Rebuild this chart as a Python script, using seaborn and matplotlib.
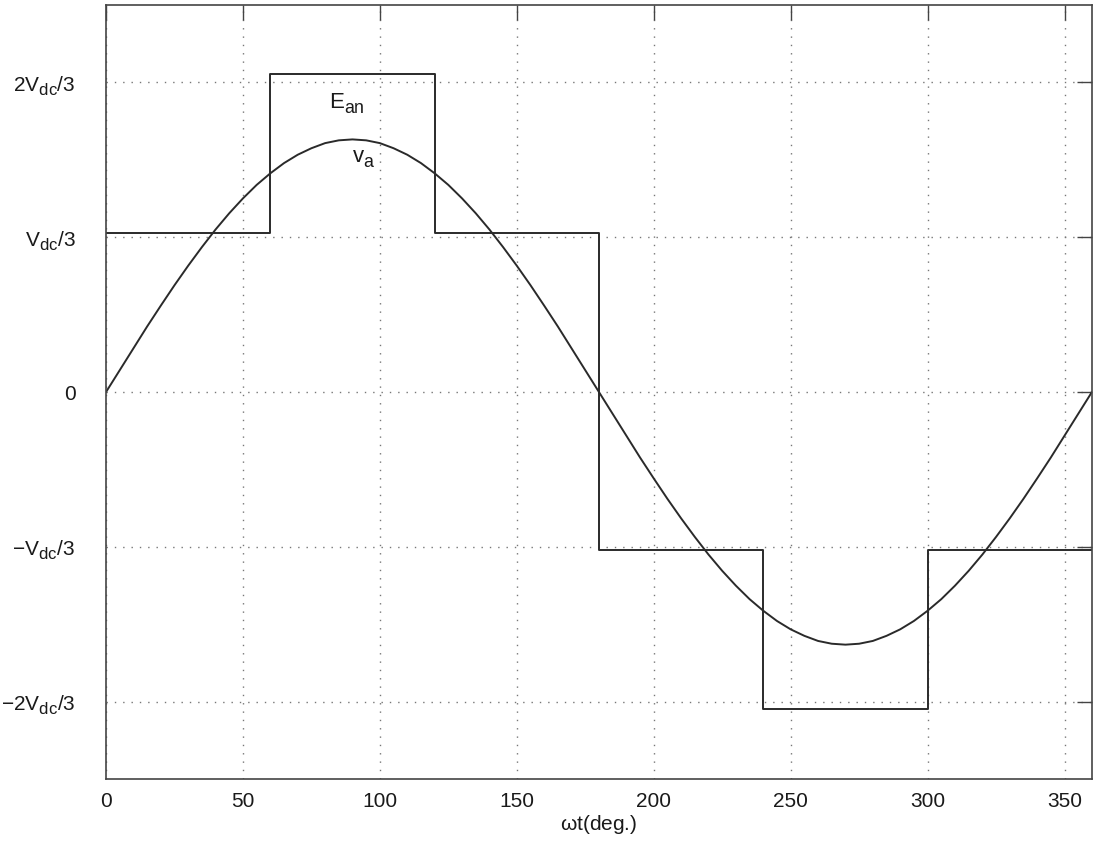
import numpy as np
import pandas as pd
import matplotlib
matplotlib.use("Agg")
import matplotlib.pyplot as plt
import seaborn as sns
try:
    import matplotlib._mathtext as _mt
    _mt.SHRINK_FACTOR = 0.8
    _mt.FontConstantsBase.sub1 = 0.45
    _mt.FontConstantsBase.sub2 = 0.6
except Exception:
    pass

# ---- data (Vdc = 1) ----
step_angles = [0, 60, 120, 180, 240, 300, 360]
step_levels = [0.343, 0.685, 0.343, -0.341, -0.683, -0.341, -0.341]

va_angles = list(range(0, 365, 5))
va_values = [0.000, 0.047, 0.094, 0.141, 0.186, 0.230, 0.272, 0.312, 0.350, 0.385,
             0.417, 0.446, 0.471, 0.493, 0.511, 0.525, 0.536, 0.542, 0.544, 0.542,
             0.536, 0.525, 0.511, 0.493, 0.471, 0.446, 0.417, 0.385, 0.350, 0.312,
             0.272, 0.230, 0.186, 0.141, 0.094, 0.047, 0.000, -0.047, -0.094, -0.141,
             -0.186, -0.230, -0.272, -0.312, -0.350, -0.385, -0.417, -0.446, -0.471, -0.493,
             -0.511, -0.525, -0.536, -0.542, -0.544, -0.542, -0.536, -0.525, -0.511, -0.493,
             -0.471, -0.446, -0.417, -0.385, -0.350, -0.312, -0.272, -0.230, -0.186, -0.141,
             -0.094, -0.047, 0.000]

x_ticks = [0, 50, 100, 150, 200, 250, 300, 350]
y_ticks = [-2/3, -1/3, 0, 1/3, 2/3]
y_ticklabels = [r'$-2V_{dc}/3$', r'$-V_{dc}/3$', '0', r'$V_{dc}/3$', r'$2V_{dc}/3$']

sns.set_style("white")
plt.rcParams['font.family'] = ['Liberation Sans', 'DejaVu Sans']
plt.rcParams['mathtext.fontset'] = 'custom'
plt.rcParams['mathtext.rm'] = 'Liberation Sans'
plt.rcParams['mathtext.it'] = 'Liberation Sans'
plt.rcParams['mathtext.default'] = 'regular'

fig = plt.figure(figsize=(10.93, 8.41), dpi=100)
ax = fig.add_axes([0.097, 0.0737, 0.902, 0.9203])

line_col = '#2a2a2a'
df_step = pd.DataFrame({'wt': step_angles, 'E': step_levels})
df_va = pd.DataFrame({'wt': va_angles, 'v': va_values})
sns.lineplot(data=df_step, x='wt', y='E', ax=ax, drawstyle='steps-post',
             color=line_col, lw=1.4, estimator=None, sort=False)
sns.lineplot(data=df_va, x='wt', y='v', ax=ax, color=line_col, lw=1.4,
             estimator=None, sort=False)

ax.set_xlim(0, 360)
ax.set_ylim(-2.5/3, 2.5/3)
ax.set_xticks(x_ticks)
ax.set_yticks(y_ticks)
ax.set_yticklabels(y_ticklabels)
ax.tick_params(axis='both', direction='in', length=11, width=1.0, color='#444444',
               top=True, right=True, labelcolor='#1a1a1a')
ax.tick_params(axis='x', pad=9, labelsize=15)
ax.tick_params(axis='y', pad=22, labelsize=15)
ax.grid(True, linestyle=(0, (1, 5)), color='#777777', lw=1.0)
for s in ax.spines.values():
    s.set_color('#444444')
    s.set_linewidth(1.2)

ax.set_xlabel(r'$\omega$t(deg.)', fontsize=15, labelpad=2, color='#1a1a1a')
ax.set_ylabel('')

ax.text(81.5, 0.611, r'$E_{an}$', fontsize=16, color='#1a1a1a')
ax.text(90, 0.493, r'$v_a$', fontsize=16, color='#1a1a1a')

fig.savefig('out.png', dpi=100)
